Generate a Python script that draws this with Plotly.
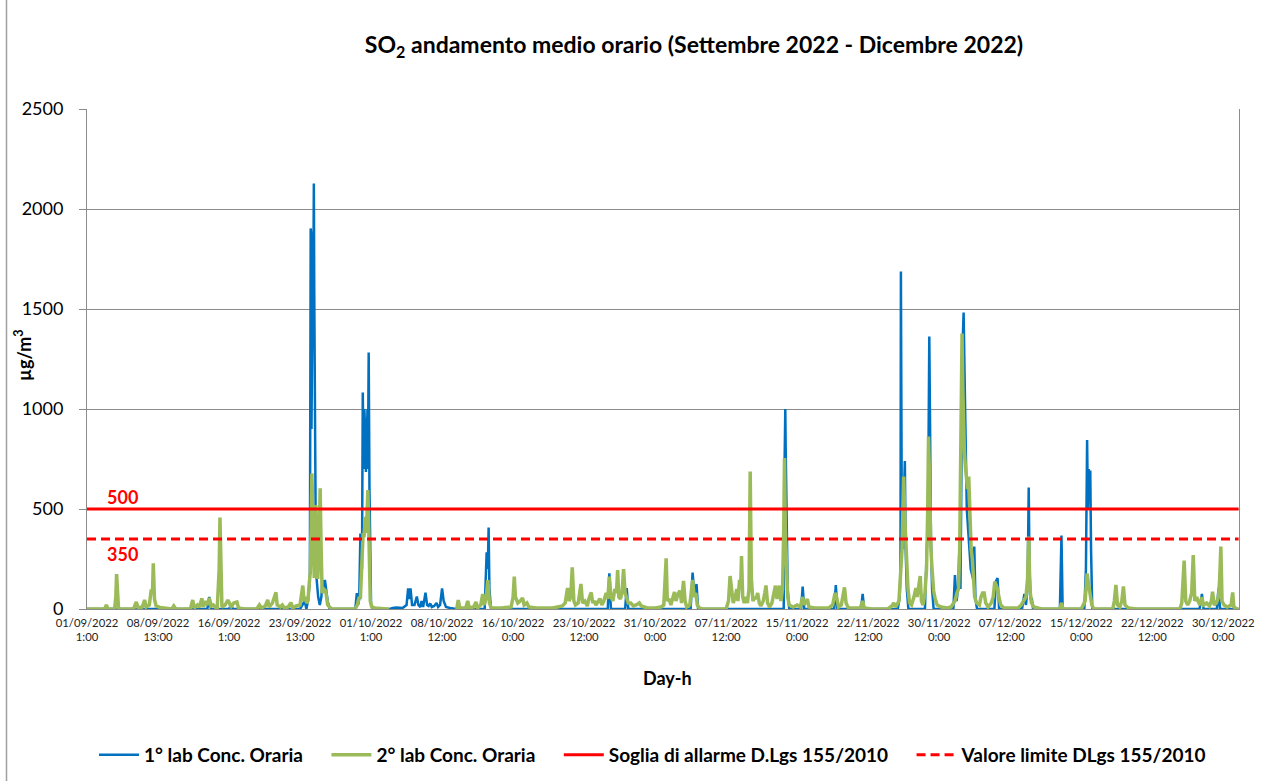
import plotly.graph_objects as go

# ---------------- data (hour index from 01/09/2022 1:00, value in µg/m³) ----------------
tick_hours = [0, 180, 360, 540, 720, 900, 1080, 1260, 1440, 1620, 1800, 1980, 2160, 2340, 2520, 2700, 2880]
tick_labels = ["01/09/2022<br>1:00", "08/09/2022<br>13:00", "16/09/2022<br>1:00", "23/09/2022<br>13:00",
               "01/10/2022<br>1:00", "08/10/2022<br>12:00", "16/10/2022<br>0:00", "23/10/2022<br>12:00",
               "31/10/2022<br>0:00", "07/11/2022<br>12:00", "15/11/2022<br>0:00", "22/11/2022<br>12:00",
               "30/11/2022<br>0:00", "07/12/2022<br>12:00", "15/12/2022<br>0:00", "22/12/2022<br>12:00",
               "30/12/2022<br>0:00"]

lab1 = [(0,0),(305,0),(310,60),(314,0),(360,0),(365,20),(370,0),(540,0),(552,40),(556,0),(560,40),(563,100),
        (565,178),(566,1400),(567,1903),(568,1880),(569,900),(570,1500),(571,1200),(572,1700),(573,1350),
        (574,1800),(575,2128),(576,1600),(577,1000),(578,1400),(579,600),(580,300),(582,150),(586,60),(590,20),
        (594,60),(597,145),(600,100),(603,145),(606,100),(610,40),(615,0),(680,0),(684,80),(687,20),(690,50),
        (693,378),(695,300),(697,200),(699,1082),(701,700),(703,1000),(705,895),(707,685),(709,900),(711,1000),
        (712,700),(714,1282),(716,600),(718,155),(720,20),(725,0),(767,0),(775,5),(785,8),(800,5),(810,20),
        (814,103),(817,50),(820,103),(824,20),(830,20),(836,62),(840,20),(845,10),(848,40),(852,10),(858,82),
        (862,20),(866,15),(870,28),(874,10),(880,15),(886,30),(890,10),(895,20),(900,103),(904,40),(910,10),
        (920,5),(936,0),(1008,0),(1013,283),(1016,200),(1018,408),(1020,100),(1024,0),(1320,0),(1324,178),
        (1328,0),(1364,0),(1368,105),(1372,0),(1530,0),(1535,182),(1540,60),(1545,125),(1549,0),(1766,0),
        (1768,700),(1770,1000),(1771,800),(1773,487),(1776,100),(1780,0),(1810,0),(1814,112),(1818,0),
        (1894,0),(1898,120),(1902,0),(1962,0),(1966,75),(1970,0),(2055,0),(2060,60),(2062,200),(2063,1687),
        (2065,600),(2068,300),(2070,500),(2072,740),(2073,740),(2075,300),(2078,100),(2082,0),(2124,0),
        (2128,270),(2131,400),(2133,800),(2135,1362),(2137,900),(2139,370),(2142,100),(2146,0),(2196,0),
        (2200,170),(2204,40),(2208,100),(2211,282),(2214,100),(2219,1300),(2222,1482),(2225,1100),(2230,500),
        (2240,200),(2246,150),(2249,312),(2252,50),(2256,0),(2300,0),(2304,140),(2308,155),(2312,0),(2370,0),
        (2376,75),(2380,20),(2384,100),(2387,608),(2389,200),(2392,50),(2395,50),(2398,0),(2466,0),(2470,367),
        (2473,0),(2528,0),(2532,200),(2535,845),(2537,500),(2539,700),(2541,600),(2543,692),(2545,300),
        (2548,0),(2820,0),(2826,75),(2830,0),(2864,0),(2868,103),(2872,0),(2919,0)]

lab2 = [(0,0),(45,0),(49,20),(53,0),(70,0),(73,60),(75,175),(77,60),(80,0),(118,0),(125,35),(130,5),(140,10),
        (146,45),(150,10),(158,20),(163,98),(166,80),(168,228),(171,50),(175,15),(185,8),(195,5),(215,0),
        (220,15),(225,0),(262,0),(268,45),(272,5),(280,20),(285,10),(291,53),(295,10),(300,40),(305,20),
        (310,55),(315,15),(320,20),(330,0),(335,200),(337,457),(339,250),(342,10),(350,20),(357,45),(361,30),
        (365,10),(372,30),(380,35),(384,5),(400,0),(430,0),(437,20),(442,5),(452,15),(458,45),(462,10),
        (470,30),(476,60),(479,83),(482,20),(490,10),(495,20),(500,5),(510,10),(517,32),(521,5),(530,15),
        (540,20),(547,117),(550,40),(553,60),(557,30),(560,40),(563,120),(566,183),(568,400),(570,678),
        (572,500),(574,250),(576,155),(578,300),(580,520),(582,400),(585,150),(588,300),(591,603),(593,350),
        (596,80),(600,100),(605,90),(610,20),(620,0),(680,0),(685,20),(690,60),(693,50),(696,200),(698,320),
        (700,380),(702,360),(704,420),(706,460),(708,380),(710,500),(712,595),(714,420),(716,150),(718,40),
        (722,10),(730,5),(760,0),(766,0),(767,None),
        (937,0),(941,45),(945,5),(960,5),(965,40),(969,5),(980,10),(986,35),(990,5),(998,20),(1003,75),
        (1007,20),(1012,60),(1016,145),(1020,30),(1025,5),(1050,5),(1075,10),(1080,60),(1083,162),(1086,60),
        (1092,30),(1098,40),(1104,55),(1108,20),(1115,30),(1120,10),(1140,5),(1180,5),(1195,10),(1205,15),
        (1212,30),(1218,105),(1222,40),(1226,60),(1230,208),(1234,40),(1238,20),(1245,30),(1252,125),
        (1256,30),(1262,40),(1268,15),(1272,50),(1278,83),(1282,30),(1286,40),(1290,20),(1296,40),(1300,52),
        (1305,20),(1310,40),(1316,80),(1320,50),(1324,162),(1328,60),(1333,40),(1338,100),(1342,80),
        (1345,195),(1348,60),(1352,50),(1356,80),(1360,200),(1364,80),(1368,60),(1372,30),(1378,30),
        (1385,15),(1392,20),(1400,30),(1405,15),(1420,5),(1440,5),(1455,10),(1462,20),(1468,253),(1471,40),
        (1476,50),(1480,20),(1485,60),(1489,85),(1493,40),(1497,70),(1503,92),(1507,30),(1512,140),(1516,40),
        (1520,10),(1528,20),(1535,145),(1539,60),(1543,80),(1547,20),(1552,5),(1560,0),(1620,0),(1626,40),
        (1630,165),(1634,80),(1638,30),(1643,60),(1647,100),(1650,40),(1654,145),(1657,120),(1659,265),
        (1662,60),(1666,30),(1670,60),(1674,30),(1678,100),(1681,687),(1684,150),(1688,40),(1692,60),
        (1696,50),(1700,80),(1704,30),(1708,15),(1714,40),(1718,80),(1721,118),(1725,30),(1730,10),(1736,30),
        (1741,70),(1745,117),(1749,50),(1752,80),(1755,117),(1759,40),(1763,100),(1766,400),(1768,755),
        (1770,400),(1773,150),(1776,60),(1780,20),(1790,10),(1800,20),(1808,10),(1814,60),(1818,20),
        (1826,50),(1830,10),(1845,5),(1880,5),(1890,20),(1896,80),(1900,60),(1905,10),(1912,20),(1920,108),
        (1924,30),(1930,5),(1960,5),(1966,40),(1970,5),(1990,0),(2030,0),(2040,15),(2045,30),(2050,10),
        (2058,40),(2061,120),(2063,212),(2066,300),(2068,500),(2070,662),(2073,450),(2076,300),(2078,300),
        (2081,100),(2085,30),(2090,20),(2096,60),(2101,105),(2104,60),(2108,120),(2112,165),(2115,40),
        (2119,20),(2124,80),(2128,200),(2131,500),(2133,862),(2135,700),(2137,400),(2139,300),(2142,200),
        (2146,90),(2150,50),(2155,20),(2165,10),(2180,5),(2190,10),(2200,40),(2205,80),(2209,100),(2212,300),
        (2215,800),(2218,1378),(2220,1100),(2222,900),(2224,787),(2227,700),(2230,650),(2232,600),(2235,662),
        (2238,400),(2241,300),(2244,250),(2247,150),(2250,60),(2255,30),(2262,20),(2266,60),(2270,80),
        (2274,80),(2278,30),(2284,10),(2292,30),(2297,60),(2301,137),(2304,120),(2308,100),(2312,55),
        (2316,20),(2325,5),(2360,5),(2368,20),(2374,40),(2380,60),(2384,150),(2387,362),(2390,100),(2394,30),
        (2400,10),(2420,0),(2466,0),(2470,30),(2474,0),(2520,0),(2530,40),(2535,178),(2539,120),(2543,80),
        (2547,20),(2552,0),(2600,0),(2604,40),(2608,120),(2612,20),(2618,10),(2623,40),(2627,113),(2631,20),
        (2640,5),(2660,0),(2770,0),(2775,30),(2781,242),(2785,40),(2790,20),(2795,40),(2800,80),(2804,270),
        (2808,40),(2813,60),(2818,30),(2822,20),(2826,60),(2830,20),(2838,30),(2845,15),(2850,40),(2853,87),
        (2857,20),(2863,30),(2868,60),(2871,150),(2874,312),(2877,40),(2882,20),(2890,10),(2900,20),
        (2904,83),(2907,10),(2915,0),(2919,0)]

period = [0, 2919]
alarm_threshold = [500, 500]
limit_value = [350, 350]

series_names = ["1° lab Conc. Oraria", "2° lab Conc. Oraria",
                "Soglia di allarme D.Lgs 155/2010", "Valore limite DLgs 155/2010"]

# ---------------- figure ----------------
FONT = "Lato, 'Open Sans', sans-serif"
BLUE = "#0070C0"
GREEN = "#9BBB59"
RED = "#FF0000"
GRID = "#8C8C8C"
PAD = "&nbsp;" * 4   # extra room after each legend entry, as in the original legend

fig = go.Figure()
fig.add_trace(go.Scatter(x=[p[0] for p in lab1], y=[p[1] for p in lab1], mode="lines",
                         name=series_names[0] + PAD, line=dict(color=BLUE, width=2.5),
                         connectgaps=False))
fig.add_trace(go.Scatter(x=[p[0] for p in lab2], y=[p[1] for p in lab2], mode="lines",
                         name=series_names[1] + PAD, line=dict(color=GREEN, width=3.5),
                         connectgaps=False))
fig.add_trace(go.Scatter(x=period, y=alarm_threshold, mode="lines", name=series_names[2] + PAD,
                         line=dict(color=RED, width=3)))
fig.add_trace(go.Scatter(x=period, y=limit_value, mode="lines", name=series_names[3],
                         line=dict(color=RED, width=3, dash="9px,5px")))

fig.update_layout(
    width=1287, height=781,
    margin=dict(l=87, r=48, t=109, b=172, autoexpand=False),
    paper_bgcolor="white", plot_bgcolor="white",
    font=dict(family=FONT, color="#000000"),
    title=dict(text="SO<sub>2</sub> andamento medio orario (Settembre 2022 - Dicembre 2022)",
               x=694 / 1287, xanchor="center", xref="container",
               y=1 - 45 / 781, yanchor="middle", yref="container",
               font=dict(family=FONT, size=23, color="#000000", weight="bold")),
    showlegend=True,
    legend=dict(orientation="h", x=(653 - 87) / 1152, xanchor="center", y=(609 - 755) / 500,
                yanchor="middle",
                font=dict(family=FONT, size=19, color="#000000", weight="bold"),
                traceorder="normal", itemwidth=40, bgcolor="rgba(0,0,0,0)"),
)

fig.update_xaxes(
    range=[0, 2920], tickmode="array", tickvals=tick_hours, ticktext=tick_labels,
    showgrid=False, zeroline=False, showline=True, linecolor=GRID, linewidth=1,
    ticks="", ticklabelstandoff=3, tickfont=dict(family=FONT, size=11.3, color="#222222"),
)
fig.update_yaxes(
    range=[0, 2500], dtick=500, showgrid=True, gridcolor=GRID, gridwidth=1,
    zeroline=False, showline=True, linecolor=GRID, linewidth=1, mirror=True,
    ticks="outside", ticklen=7, tickcolor=GRID, ticklabelstandoff=12,
    tickfont=dict(family=FONT, size=18, color="#000000"),
)

fig.add_annotation(text="µg/m<sup>3</sup>", xref="paper", yref="paper", x=(23 - 87) / 1152,
                   y=(609 - 355) / 500, xanchor="center", yanchor="middle", textangle=-90,
                   showarrow=False,
                   font=dict(family=FONT, size=18, color="#000000", weight="bold"))
fig.add_annotation(text="Day-h", xref="paper", yref="paper", x=(667 - 87) / 1152,
                   y=(609 - 678) / 500, xanchor="center", yanchor="middle", showarrow=False,
                   font=dict(family=FONT, size=18, color="#000000", weight="bold"))
fig.add_annotation(text="500", xref="paper", yref="y", x=(122 - 87) / 1152, y=alarm_threshold[0],
                   xanchor="center", yanchor="bottom", yshift=-1, showarrow=False,
                   font=dict(family=FONT, size=18, color=RED, weight="bold"))
fig.add_annotation(text="350", xref="paper", yref="y", x=(122 - 87) / 1152, y=limit_value[0],
                   xanchor="center", yanchor="top", yshift=-2, showarrow=False,
                   font=dict(family=FONT, size=18, color=RED, weight="bold"))

# chart-area border on the left
fig.add_shape(type="line", xref="paper", yref="paper", x0=(6.5 - 87) / 1152, x1=(6.5 - 87) / 1152,
              y0=(609 - 0) / 500, y1=(609 - 781) / 500, line=dict(color="#A0A0A0", width=1.5))

fig.write_html("out.html", config={"displayModeBar": False},
               post_script="document.body.style.margin='0px';")
